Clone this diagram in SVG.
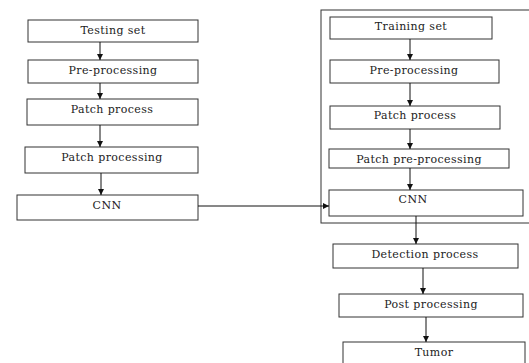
<svg xmlns="http://www.w3.org/2000/svg" width="529" height="363" viewBox="0 0 529 363">
<defs>
<marker id="ah" markerWidth="8" markerHeight="6" refX="6" refY="3" orient="auto" markerUnits="userSpaceOnUse">
<path d="M0,0 L6,3 L0,6 Z" fill="#111"/>
</marker>
<style>
rect.b{fill:#fff;stroke:#333;stroke-width:1}
text{font-family:"DejaVu Serif","Liberation Serif",serif;font-size:11px;letter-spacing:0.4px;fill:#222;text-anchor:middle}
.c line{stroke:#111;stroke-width:1;marker-end:url(#ah)}
</style>
</defs>
<rect width="529" height="363" fill="#fff"/>
<rect id="container" x="321" y="10" width="230" height="213" fill="none" stroke="#333" stroke-width="1"/>
<g id="testing-set"><rect class="b" x="28" y="20" width="170" height="22"/><text x="113" y="34">Testing set</text></g>
<g id="pre-processing-left"><rect class="b" x="28" y="60" width="170" height="23"/><text x="113" y="74">Pre-processing</text></g>
<g id="patch-process-left"><rect class="b" x="27" y="99" width="171" height="26"/><text x="112" y="113">Patch process</text></g>
<g id="patch-processing-left"><rect class="b" x="25" y="147" width="173" height="26"/><text x="112" y="161">Patch processing</text></g>
<g id="cnn-left"><rect class="b" x="17" y="195" width="181" height="25"/><text x="107" y="209">CNN</text></g>
<g id="training-set"><rect class="b" x="330" y="17" width="162" height="22"/><text x="411" y="30">Training set</text></g>
<g id="pre-processing-right"><rect class="b" x="330" y="60" width="169" height="23"/><text x="414" y="74">Pre-processing</text></g>
<g id="patch-process-right"><rect class="b" x="330" y="106" width="170" height="23"/><text x="415" y="119">Patch process</text></g>
<g id="patch-pre-processing"><rect class="b" x="329" y="149" width="180" height="19"/><text x="419" y="163">Patch pre-processing</text></g>
<g id="cnn-right"><rect class="b" x="329" y="190" width="194" height="26"/><text x="413" y="203">CNN</text></g>
<g id="detection-process"><rect class="b" x="333" y="244" width="185" height="24"/><text x="425" y="258">Detection process</text></g>
<g id="post-processing"><rect class="b" x="339" y="294" width="184" height="23"/><text x="431" y="308">Post processing</text></g>
<g id="tumor"><rect class="b" x="343" y="342" width="182" height="30"/><text x="434" y="356">Tumor</text></g>
<g class="c" id="connectors">
<line x1="100" y1="42" x2="100" y2="60"/>
<line x1="100" y1="83" x2="100" y2="99"/>
<line x1="100" y1="125" x2="100" y2="147"/>
<line x1="101" y1="173" x2="101" y2="195"/>
<line x1="198" y1="206" x2="329" y2="206"/>
<line x1="410" y1="39" x2="410" y2="60"/>
<line x1="410" y1="83" x2="410" y2="106"/>
<line x1="410" y1="129" x2="410" y2="149"/>
<line x1="410" y1="168" x2="410" y2="190"/>
<line x1="416" y1="216" x2="416" y2="244"/>
<line x1="423" y1="268" x2="423" y2="294"/>
<line x1="426" y1="317" x2="426" y2="342"/>
</g>
</svg>
